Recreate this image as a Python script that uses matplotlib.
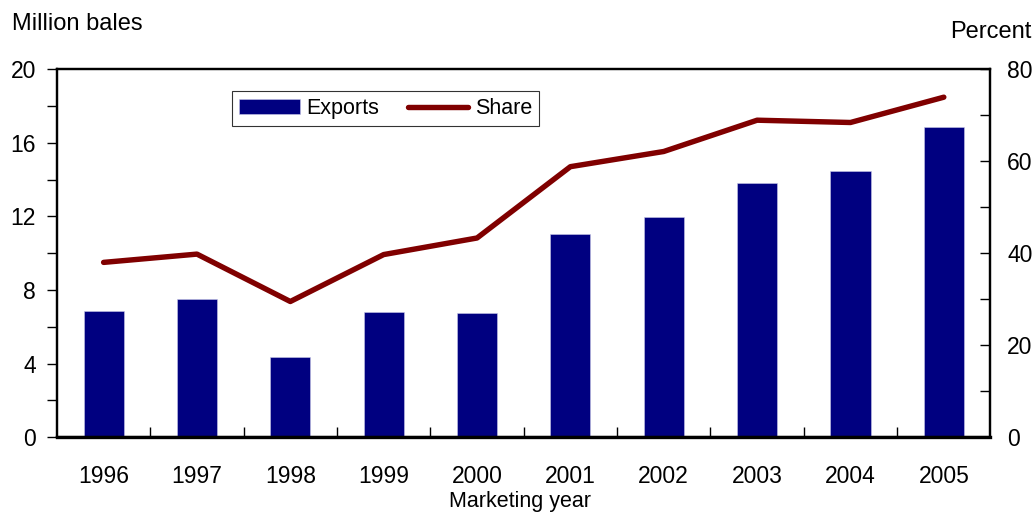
import matplotlib
matplotlib.use("Agg")
import matplotlib.pyplot as plt
import numpy as np

plt.rcParams['font.family'] = ['Liberation Sans', 'DejaVu Sans']

# Marketing years and US cotton export data
years = ['1996', '1997', '1998', '1999', '2000', '2001', '2002', '2003', '2004', '2005']
exports = [6.87, 7.52, 4.37, 6.78, 6.76, 11.05, 11.95, 13.8, 14.45, 16.85]  # million bales
share = [38.0, 39.8, 29.5, 39.7, 43.3, 58.8, 62.1, 68.9, 68.4, 73.9]  # percent

NAVY = '#000080'
MAROON = '#800000'

fig = plt.figure(figsize=(10.35, 5.12), dpi=100)
ax = fig.add_axes([0.055, 0.146, 0.902, 0.719])
ax2 = ax.twinx()

x = np.arange(len(years))
bars = ax.bar(x, exports, width=0.43, color=NAVY, edgecolor='#c8c8e8', linewidth=0.4,
              label='Exports', zorder=2)
line, = ax2.plot(x, share, color=MAROON, linewidth=3.9, solid_capstyle='round',
                 label='Share', zorder=3)

ax.set_xlim(-0.5, len(years) - 0.5)
ax.set_ylim(0, 20)
ax2.set_ylim(0, 80)

# left axis: outward ticks, majors every 4, minors every 2
ax.set_yticks(np.arange(0, 21, 4))
ax.set_yticks(np.arange(2, 20, 4), minor=True)
ax.tick_params(axis='y', which='both', direction='out', length=7, width=1,
               labelsize=16.5, pad=8)

# right axis: inward ticks
ax2.set_yticks(np.arange(0, 81, 20))
ax2.set_yticks(np.arange(10, 80, 20), minor=True)
ax2.tick_params(axis='y', which='both', direction='in', length=7, width=1,
                labelsize=16.5, pad=12)

# x ticks sit between categories, labels centred on bars
ax.set_xticks(np.arange(0.5, len(years) - 1, 1))
ax.set_xticklabels([])
ax.set_xticks(x, minor=True)
ax.set_xticklabels(years, minor=True)
ax.tick_params(axis='x', which='major', direction='in', length=7, width=1)
ax.tick_params(axis='x', which='minor', length=0, labelsize=16.5, pad=20)

for a in (ax, ax2):
    for side in ('top', 'bottom', 'left', 'right'):
        a.spines[side].set_linewidth(1.6)
ax.spines['bottom'].set_linewidth(2.4)

leg = ax.legend([bars, line], ['Exports', 'Share'], loc='upper left',
                bbox_to_anchor=(0.188, 0.94), ncol=2, fontsize=15.5,
                frameon=True, fancybox=False, edgecolor='black',
                handlelength=2.8, handletextpad=0.3, columnspacing=1.35,
                borderpad=0.32, borderaxespad=0)
leg.get_frame().set_linewidth(0.8)

fig.text(0.012, 0.953, 'Million bales', fontsize=17, va='center', ha='left')
fig.text(0.997, 0.938, 'Percent', fontsize=17, va='center', ha='right')
fig.text(0.502, 0.02, 'Marketing year', fontsize=15.5, va='center', ha='center')

fig.savefig('out.png', dpi=100)
